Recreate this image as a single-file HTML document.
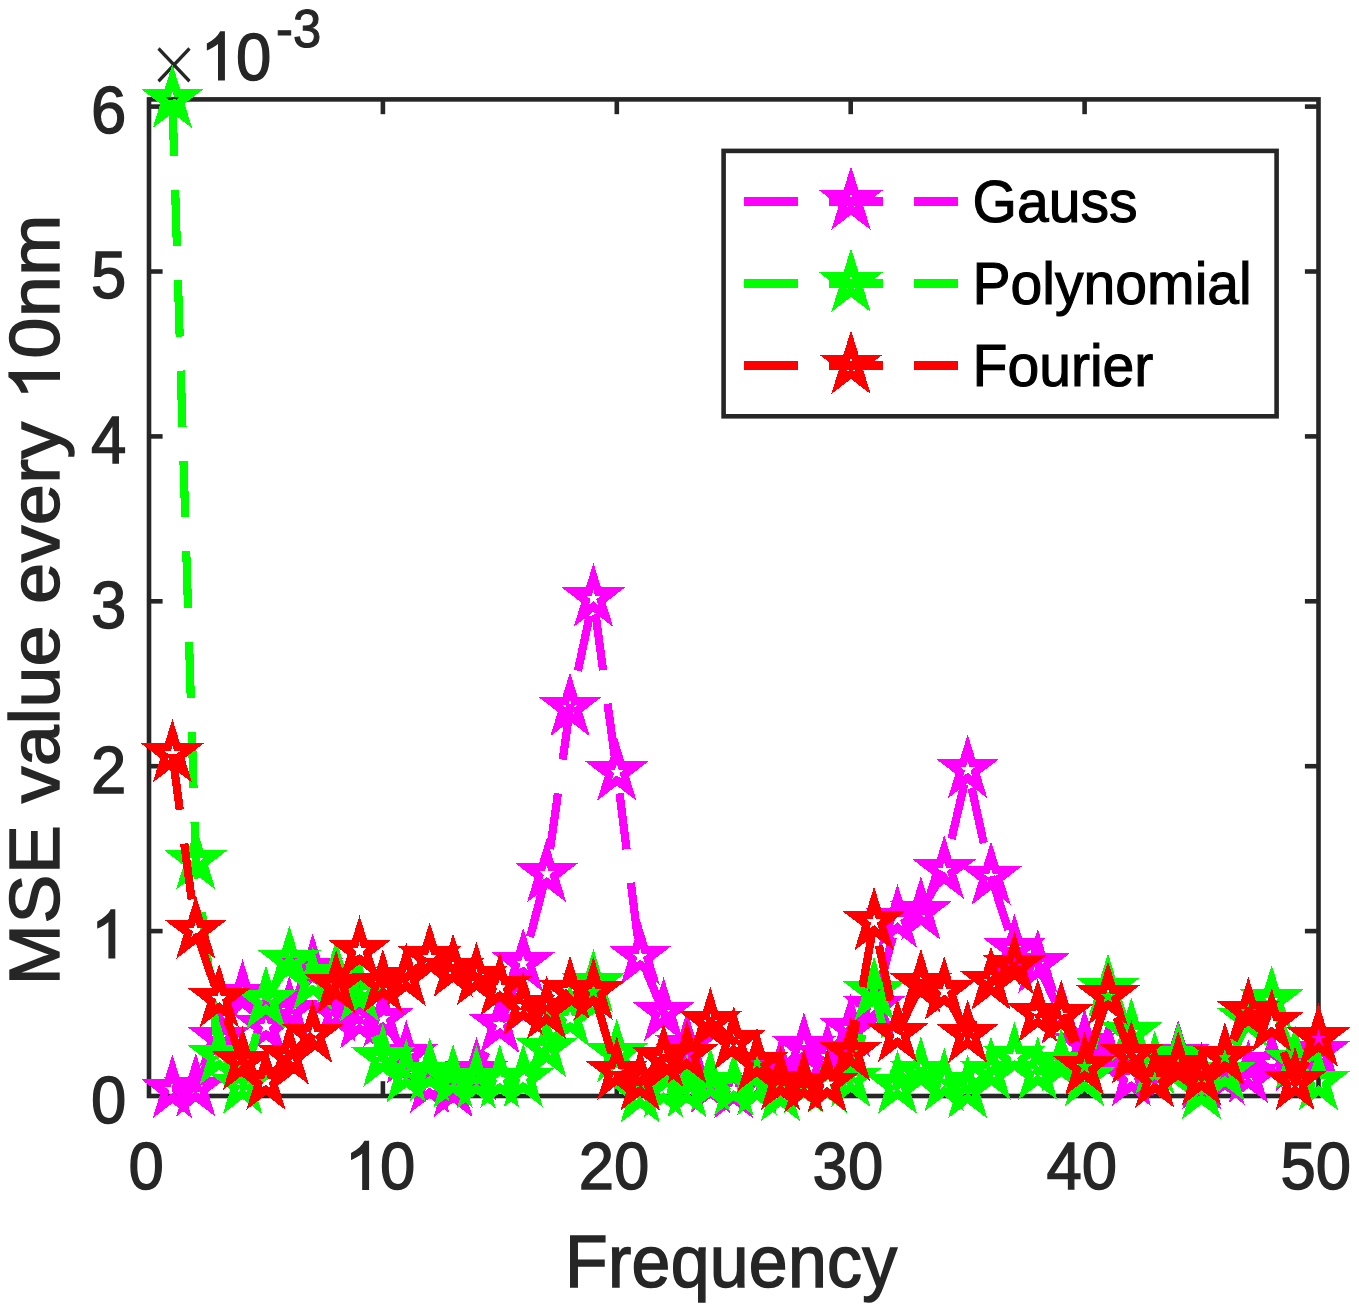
<!DOCTYPE html>
<html><head><meta charset="utf-8"><title>MSE chart</title>
<style>html,body{margin:0;padding:0;background:#fff}svg{display:block}text{font-family:"Liberation Sans",sans-serif}</style>
</head><body>
<svg width="1359" height="1311" viewBox="0 0 1359 1311">
<rect x="0" y="0" width="1359" height="1311" fill="#fff"/>
<g transform="scale(0.9520,1)">
</g>
<g stroke="#262626" stroke-width="4.60" fill="none" stroke-linecap="butt">
<rect x="149.00" y="99.40" width="1169.50" height="996.60"/>
<line x1="382.90" y1="1096.00" x2="382.90" y2="1081.20"/>
<line x1="382.90" y1="99.40" x2="382.90" y2="114.20"/>
<line x1="616.80" y1="1096.00" x2="616.80" y2="1081.20"/>
<line x1="616.80" y1="99.40" x2="616.80" y2="114.20"/>
<line x1="850.70" y1="1096.00" x2="850.70" y2="1081.20"/>
<line x1="850.70" y1="99.40" x2="850.70" y2="114.20"/>
<line x1="1084.60" y1="1096.00" x2="1084.60" y2="1081.20"/>
<line x1="1084.60" y1="99.40" x2="1084.60" y2="114.20"/>
<line x1="149.00" y1="931.10" x2="162.60" y2="931.10"/>
<line x1="1318.50" y1="931.10" x2="1304.90" y2="931.10"/>
<line x1="149.00" y1="766.20" x2="162.60" y2="766.20"/>
<line x1="1318.50" y1="766.20" x2="1304.90" y2="766.20"/>
<line x1="149.00" y1="601.30" x2="162.60" y2="601.30"/>
<line x1="1318.50" y1="601.30" x2="1304.90" y2="601.30"/>
<line x1="149.00" y1="436.40" x2="162.60" y2="436.40"/>
<line x1="1318.50" y1="436.40" x2="1304.90" y2="436.40"/>
<line x1="149.00" y1="271.50" x2="162.60" y2="271.50"/>
<line x1="1318.50" y1="271.50" x2="1304.90" y2="271.50"/>
<line x1="149.00" y1="106.60" x2="162.60" y2="106.60"/>
<line x1="1318.50" y1="106.60" x2="1304.90" y2="106.60"/>
</g>
<g transform="scale(0.9520,1)">
<text x="135.03" y="1189.30" font-size="66.67" fill="#262626" stroke="#262626" stroke-width="1.40">0</text>
<path transform="translate(362.19,1189.30) scale(0.03255,-0.03255)" d="M763 0H583V1147Q518 1085 412.5 1023T223 930V1104Q374 1175 487 1276T647 1472H763Z" fill="#262626" stroke="#262626" stroke-width="43.0"/><text x="399.26" y="1189.30" font-size="66.67" fill="#262626" stroke="#262626" stroke-width="1.40">0</text>
<text x="607.88" y="1189.30" font-size="66.67" fill="#262626" stroke="#262626" stroke-width="1.40">2</text><text x="644.96" y="1189.30" font-size="66.67" fill="#262626" stroke="#262626" stroke-width="1.40">0</text>
<text x="853.57" y="1189.30" font-size="66.67" fill="#262626" stroke="#262626" stroke-width="1.40">3</text><text x="890.65" y="1189.30" font-size="66.67" fill="#262626" stroke="#262626" stroke-width="1.40">0</text>
<text x="1099.27" y="1189.30" font-size="66.67" fill="#262626" stroke="#262626" stroke-width="1.40">4</text><text x="1136.34" y="1189.30" font-size="66.67" fill="#262626" stroke="#262626" stroke-width="1.40">0</text>
<text x="1344.96" y="1189.30" font-size="66.67" fill="#262626" stroke="#262626" stroke-width="1.40">5</text><text x="1382.04" y="1189.30" font-size="66.67" fill="#262626" stroke="#262626" stroke-width="1.40">0</text>
<text x="95.59" y="1122.80" font-size="66.67" fill="#262626" stroke="#262626" stroke-width="1.40">0</text>
<path transform="translate(95.59,957.90) scale(0.03255,-0.03255)" d="M763 0H583V1147Q518 1085 412.5 1023T223 930V1104Q374 1175 487 1276T647 1472H763Z" fill="#262626" stroke="#262626" stroke-width="43.0"/>
<text x="95.59" y="793.00" font-size="66.67" fill="#262626" stroke="#262626" stroke-width="1.40">2</text>
<text x="95.59" y="628.10" font-size="66.67" fill="#262626" stroke="#262626" stroke-width="1.40">3</text>
<text x="95.59" y="463.20" font-size="66.67" fill="#262626" stroke="#262626" stroke-width="1.40">4</text>
<text x="95.59" y="298.30" font-size="66.67" fill="#262626" stroke="#262626" stroke-width="1.40">5</text>
<text x="95.59" y="133.40" font-size="66.67" fill="#262626" stroke="#262626" stroke-width="1.40">6</text>
<path transform="translate(210.71,79.80) scale(0.03255,-0.03255)" d="M763 0H583V1147Q518 1085 412.5 1023T223 930V1104Q374 1175 487 1276T647 1472H763Z" fill="#262626" stroke="#262626" stroke-width="43.0"/><text x="247.79" y="79.80" font-size="66.67" fill="#262626" stroke="#262626" stroke-width="1.40">0</text>
<text x="289.92" y="47.00" font-size="53.33" fill="#262626" stroke="#262626" stroke-width="1.12">-3</text>
<g stroke="#262626" stroke-width="3.4" stroke-linecap="butt">
<line x1="166.49" y1="48.5" x2="199.05" y2="81.2"/>
<line x1="166.49" y1="81.2" x2="199.05" y2="48.5"/>
</g>
<text x="768.17" y="1287.00" font-size="73.33" fill="#262626" stroke="#262626" stroke-width="1.50" letter-spacing="0.3" text-anchor="middle">Frequency</text>
<g transform="translate(62.29,599.90) rotate(-90)">
<text x="-385.31" y="0" font-size="73.33" fill="#262626" stroke="#262626" stroke-width="1.50" letter-spacing="0.66" xml:space="preserve">MSE value every </text>
<path transform="translate(199.90,0.00) scale(0.03581,-0.03581)" d="M763 0H583V1147Q518 1085 412.5 1023T223 930V1104Q374 1175 487 1276T647 1472H763Z" fill="#262626" stroke="#262626" stroke-width="41.9"/>
<text x="241.35" y="0" font-size="73.33" fill="#262626" stroke="#262626" stroke-width="1.50" letter-spacing="0.66">0nm</text>
</g>
<g shape-rendering="crispEdges">
<polyline fill="none" stroke="#ff00ff" stroke-width="8.60" stroke-dasharray="56.4 34" stroke-dashoffset="0.00" stroke-linejoin="miter" points="181.08,1089.69 205.65,1088.03 230.22,1037.87 254.79,994.69 279.36,1026.25 303.93,1010.80 328.50,968.62 353.07,1012.96 377.64,1020.10 402.21,1018.44 426.78,1054.98 451.34,1084.37 475.91,1088.86 500.48,1071.92 525.05,1024.59 549.62,963.14"/>
<polyline fill="none" stroke="#ff00ff" stroke-width="8.60" stroke-dasharray="56.4 34" stroke-dashoffset="63.16" stroke-linejoin="miter" points="549.62,963.14 574.19,873.78 598.76,707.70 623.33,598.26 647.90,772.14 672.47,956.49 697.04,1012.46 721.61,1046.18 746.18,1084.37 770.75,1090.02 795.32,1086.04 819.88,1071.09 844.45,1047.34 869.02,1056.14 893.59,1028.74"/>
<polyline fill="none" stroke="#ff00ff" stroke-width="8.60" stroke-dasharray="56.4 34" stroke-dashoffset="41.43" stroke-linejoin="miter" points="893.59,1028.74 918.16,1006.65 942.73,919.29 967.30,911.49 991.87,870.30 1016.44,769.65 1041.01,876.44 1065.58,948.69 1090.15,964.30 1114.72,1014.62 1139.29,1043.68 1163.86,1054.48 1188.42,1077.73 1212.99,1079.39 1237.56,1054.81 1262.13,1081.05 1286.70,1076.07 1311.27,1074.41 1335.84,1062.78 1360.41,1062.78 1384.98,1051.82"/>
<path fill="none" stroke="#ff00ff" stroke-width="8.33" stroke-linejoin="miter" stroke-miterlimit="10" d="M181.08 1067.89L185.95 1082.95L201.71 1082.95L188.96 1092.26L193.83 1107.33L181.08 1098.02L168.33 1107.33L173.20 1092.26L160.45 1082.95L176.21 1082.95ZM205.65 1066.23L210.52 1081.29L226.28 1081.29L213.53 1090.60L218.40 1105.66L205.65 1096.36L192.90 1105.66L197.77 1090.60L185.02 1081.29L200.78 1081.29ZM230.22 1016.07L235.09 1031.14L250.85 1031.14L238.10 1040.45L242.97 1055.51L230.22 1046.20L217.47 1055.51L222.34 1040.45L209.59 1031.14L225.35 1031.14ZM254.79 972.89L259.66 987.95L275.42 987.95L262.67 997.26L267.54 1012.33L254.79 1003.02L242.04 1012.33L246.91 997.26L234.16 987.95L249.92 987.95ZM279.36 1004.45L284.23 1019.51L299.99 1019.51L287.24 1028.82L292.11 1043.88L279.36 1034.57L266.61 1043.88L271.48 1028.82L258.73 1019.51L274.49 1019.51ZM303.93 989.00L308.80 1004.06L324.56 1004.06L311.81 1013.37L316.68 1028.44L303.93 1019.13L291.18 1028.44L296.05 1013.37L283.30 1004.06L299.06 1004.06ZM328.50 946.82L333.37 961.88L349.13 961.88L336.38 971.19L341.25 986.25L328.50 976.94L315.75 986.25L320.62 971.19L307.87 961.88L323.63 961.88ZM353.07 991.16L357.94 1006.22L373.70 1006.22L360.95 1015.53L365.82 1030.60L353.07 1021.29L340.32 1030.60L345.19 1015.53L332.44 1006.22L348.20 1006.22ZM377.64 998.30L382.51 1013.36L398.27 1013.36L385.52 1022.67L390.39 1037.74L377.64 1028.43L364.89 1037.74L369.76 1022.67L357.01 1013.36L372.77 1013.36ZM402.21 996.64L407.08 1011.70L422.84 1011.70L410.09 1021.01L414.96 1036.08L402.21 1026.77L389.46 1036.08L394.33 1021.01L381.58 1011.70L397.34 1011.70ZM426.78 1033.18L431.65 1048.24L447.40 1048.24L434.65 1057.55L439.52 1072.61L426.78 1063.31L414.03 1072.61L418.90 1057.55L406.15 1048.24L421.91 1048.24ZM451.34 1062.57L456.21 1077.64L471.97 1077.64L459.22 1086.95L464.09 1102.01L451.34 1092.70L438.59 1102.01L443.46 1086.95L430.72 1077.64L446.47 1077.64ZM475.91 1067.06L480.78 1082.12L496.54 1082.12L483.79 1091.43L488.66 1106.50L475.91 1097.19L463.16 1106.50L468.03 1091.43L455.28 1082.12L471.04 1082.12ZM500.48 1050.12L505.35 1065.18L521.11 1065.18L508.36 1074.49L513.23 1089.55L500.48 1080.25L487.73 1089.55L492.60 1074.49L479.85 1065.18L495.61 1065.18ZM525.05 1002.79L529.92 1017.85L545.68 1017.85L532.93 1027.16L537.80 1042.22L525.05 1032.91L512.30 1042.22L517.17 1027.16L504.42 1017.85L520.18 1017.85ZM549.62 941.34L554.49 956.40L570.25 956.40L557.50 965.71L562.37 980.77L549.62 971.46L536.87 980.77L541.74 965.71L528.99 956.40L544.75 956.40ZM574.19 851.98L579.06 867.05L594.82 867.05L582.07 876.36L586.94 891.42L574.19 882.11L561.44 891.42L566.31 876.36L553.56 867.05L569.32 867.05ZM598.76 685.90L603.63 700.97L619.39 700.97L606.64 710.28L611.51 725.34L598.76 716.03L586.01 725.34L590.88 710.28L578.13 700.97L593.89 700.97ZM623.33 576.46L628.20 591.52L643.96 591.52L631.21 600.83L636.08 615.89L623.33 606.59L610.58 615.89L615.45 600.83L602.70 591.52L618.46 591.52ZM647.90 750.34L652.77 765.41L668.53 765.41L655.78 774.72L660.65 789.78L647.90 780.47L635.15 789.78L640.02 774.72L627.27 765.41L643.03 765.41ZM672.47 934.69L677.34 949.76L693.10 949.76L680.35 959.07L685.22 974.13L672.47 964.82L659.72 974.13L664.59 959.07L651.84 949.76L667.60 949.76ZM697.04 990.66L701.91 1005.73L717.67 1005.73L704.92 1015.03L709.79 1030.10L697.04 1020.79L684.29 1030.10L689.16 1015.03L676.41 1005.73L692.17 1005.73ZM721.61 1024.38L726.48 1039.44L742.24 1039.44L729.49 1048.75L734.36 1063.81L721.61 1054.50L708.86 1063.81L713.73 1048.75L700.98 1039.44L716.74 1039.44ZM746.18 1062.57L751.05 1077.64L766.81 1077.64L754.06 1086.95L758.93 1102.01L746.18 1092.70L733.43 1102.01L738.30 1086.95L725.55 1077.64L741.31 1077.64ZM770.75 1068.22L775.62 1083.28L791.38 1083.28L778.63 1092.59L783.50 1107.66L770.75 1098.35L758.00 1107.66L762.87 1092.59L750.12 1083.28L765.88 1083.28ZM795.32 1064.24L800.19 1079.30L815.94 1079.30L803.19 1088.61L808.06 1103.67L795.32 1094.36L782.57 1103.67L787.44 1088.61L774.69 1079.30L790.45 1079.30ZM819.88 1049.29L824.75 1064.35L840.51 1064.35L827.76 1073.66L832.63 1088.72L819.88 1079.41L807.13 1088.72L812.00 1073.66L799.26 1064.35L815.01 1064.35ZM844.45 1025.54L849.32 1040.60L865.08 1040.60L852.33 1049.91L857.20 1064.98L844.45 1055.67L831.70 1064.98L836.57 1049.91L823.82 1040.60L839.58 1040.60ZM869.02 1034.34L873.89 1049.40L889.65 1049.40L876.90 1058.71L881.77 1073.78L869.02 1064.47L856.27 1073.78L861.14 1058.71L848.39 1049.40L864.15 1049.40ZM893.59 1006.94L898.46 1022.00L914.22 1022.00L901.47 1031.31L906.34 1046.37L893.59 1037.06L880.84 1046.37L885.71 1031.31L872.96 1022.00L888.72 1022.00ZM918.16 984.85L923.03 999.91L938.79 999.91L926.04 1009.22L930.91 1024.29L918.16 1014.98L905.41 1024.29L910.28 1009.22L897.53 999.91L913.29 999.91ZM942.73 897.49L947.60 912.55L963.36 912.55L950.61 921.86L955.48 936.93L942.73 927.62L929.98 936.93L934.85 921.86L922.10 912.55L937.86 912.55ZM967.30 889.69L972.17 904.75L987.93 904.75L975.18 914.06L980.05 929.12L967.30 919.81L954.55 929.12L959.42 914.06L946.67 904.75L962.43 904.75ZM991.87 848.50L996.74 863.56L1012.50 863.56L999.75 872.87L1004.62 887.93L991.87 878.62L979.12 887.93L983.99 872.87L971.24 863.56L987.00 863.56ZM1016.44 747.85L1021.31 762.92L1037.07 762.92L1024.32 772.23L1029.19 787.29L1016.44 777.98L1003.69 787.29L1008.56 772.23L995.81 762.92L1011.57 762.92ZM1041.01 854.64L1045.88 869.71L1061.64 869.71L1048.89 879.02L1053.76 894.08L1041.01 884.77L1028.26 894.08L1033.13 879.02L1020.38 869.71L1036.14 869.71ZM1065.58 926.89L1070.45 941.95L1086.21 941.95L1073.46 951.26L1078.33 966.32L1065.58 957.01L1052.83 966.32L1057.70 951.26L1044.95 941.95L1060.71 941.95ZM1090.15 942.50L1095.02 957.56L1110.78 957.56L1098.03 966.87L1102.90 981.94L1090.15 972.63L1077.40 981.94L1082.27 966.87L1069.52 957.56L1085.28 957.56ZM1114.72 992.82L1119.59 1007.88L1135.35 1007.88L1122.60 1017.19L1127.47 1032.26L1114.72 1022.95L1101.97 1032.26L1106.84 1017.19L1094.09 1007.88L1109.85 1007.88ZM1139.29 1021.88L1144.16 1036.95L1159.92 1036.95L1147.17 1046.26L1152.04 1061.32L1139.29 1052.01L1126.54 1061.32L1131.41 1046.26L1118.66 1036.95L1134.42 1036.95ZM1163.86 1032.68L1168.72 1047.74L1184.48 1047.74L1171.73 1057.05L1176.60 1072.12L1163.86 1062.81L1151.11 1072.12L1155.98 1057.05L1143.23 1047.74L1158.99 1047.74ZM1188.42 1055.93L1193.29 1070.99L1209.05 1070.99L1196.30 1080.30L1201.17 1095.37L1188.42 1086.06L1175.67 1095.37L1180.54 1080.30L1167.80 1070.99L1183.55 1070.99ZM1212.99 1057.59L1217.86 1072.66L1233.62 1072.66L1220.87 1081.97L1225.74 1097.03L1212.99 1087.72L1200.24 1097.03L1205.11 1081.97L1192.36 1072.66L1208.12 1072.66ZM1237.56 1033.01L1242.43 1048.08L1258.19 1048.08L1245.44 1057.39L1250.31 1072.45L1237.56 1063.14L1224.81 1072.45L1229.68 1057.39L1216.93 1048.08L1232.69 1048.08ZM1262.13 1059.25L1267.00 1074.32L1282.76 1074.32L1270.01 1083.63L1274.88 1098.69L1262.13 1089.38L1249.38 1098.69L1254.25 1083.63L1241.50 1074.32L1257.26 1074.32ZM1286.70 1054.27L1291.57 1069.33L1307.33 1069.33L1294.58 1078.64L1299.45 1093.71L1286.70 1084.40L1273.95 1093.71L1278.82 1078.64L1266.07 1069.33L1281.83 1069.33ZM1311.27 1052.61L1316.14 1067.67L1331.90 1067.67L1319.15 1076.98L1324.02 1092.05L1311.27 1082.74L1298.52 1092.05L1303.39 1076.98L1290.64 1067.67L1306.40 1067.67ZM1335.84 1040.98L1340.71 1056.05L1356.47 1056.05L1343.72 1065.36L1348.59 1080.42L1335.84 1071.11L1323.09 1080.42L1327.96 1065.36L1315.21 1056.05L1330.97 1056.05ZM1360.41 1040.98L1365.28 1056.05L1381.04 1056.05L1368.29 1065.36L1373.16 1080.42L1360.41 1071.11L1347.66 1080.42L1352.53 1065.36L1339.78 1056.05L1355.54 1056.05ZM1384.98 1030.02L1389.85 1045.09L1405.61 1045.09L1392.86 1054.40L1397.73 1069.46L1384.98 1060.15L1372.23 1069.46L1377.10 1054.40L1364.35 1045.09L1380.11 1045.09Z"/>
<polyline fill="none" stroke="#00ff00" stroke-width="8.60" stroke-dasharray="56.4 34" stroke-dashoffset="0.00" stroke-linejoin="miter" points="181.08,99.52 205.65,861.00 230.22,1056.14 254.79,1085.37 279.36,1000.67 303.93,960.98 328.50,981.40 353.07,974.76 377.64,993.03 402.21,1058.30 426.78,1073.75 451.34,1072.58 475.91,1079.39 500.48,1080.22 525.05,1079.39 549.62,1078.56 574.19,1048.67 598.76,1018.27 623.33,984.06 647.90,1053.82 672.47,1094.17 697.04,1088.86 721.61,1088.86 746.18,1082.71 770.75,1086.87 795.32,1086.53 819.88,1092.68 844.45,1084.37 869.02,1084.37 893.59,1078.56 918.16,991.87 942.73,1085.37 967.30,1071.50 991.87,1082.71 1016.44,1089.86 1041.01,1071.50 1065.58,1056.81 1090.15,1071.50 1114.72,1062.78 1139.29,1077.73 1163.86,988.71 1188.42,1032.72 1212.99,1065.61 1237.56,1056.81 1262.13,1090.85 1286.70,1072.42 1311.27,1018.77 1335.84,1000.34 1360.41,1060.46 1384.98,1081.88"/>
<path fill="none" stroke="#00ff00" stroke-width="8.33" stroke-linejoin="miter" stroke-miterlimit="10" d="M181.08 77.72L185.95 92.78L201.71 92.78L188.96 102.09L193.83 117.16L181.08 107.85L168.33 117.16L173.20 102.09L160.45 92.78L176.21 92.78ZM205.65 839.20L210.52 854.26L226.28 854.26L213.53 863.57L218.40 878.63L205.65 869.32L192.90 878.63L197.77 863.57L185.02 854.26L200.78 854.26ZM230.22 1034.34L235.09 1049.40L250.85 1049.40L238.10 1058.71L242.97 1073.78L230.22 1064.47L217.47 1073.78L222.34 1058.71L209.59 1049.40L225.35 1049.40ZM254.79 1063.57L259.66 1078.63L275.42 1078.63L262.67 1087.94L267.54 1103.01L254.79 1093.70L242.04 1103.01L246.91 1087.94L234.16 1078.63L249.92 1078.63ZM279.36 978.87L284.23 993.93L299.99 993.93L287.24 1003.24L292.11 1018.31L279.36 1009.00L266.61 1018.31L271.48 1003.24L258.73 993.93L274.49 993.93ZM303.93 939.18L308.80 954.24L324.56 954.24L311.81 963.55L316.68 978.61L303.93 969.30L291.18 978.61L296.05 963.55L283.30 954.24L299.06 954.24ZM328.50 959.60L333.37 974.67L349.13 974.67L336.38 983.98L341.25 999.04L328.50 989.73L315.75 999.04L320.62 983.98L307.87 974.67L323.63 974.67ZM353.07 952.96L357.94 968.03L373.70 968.03L360.95 977.33L365.82 992.40L353.07 983.09L340.32 992.40L345.19 977.33L332.44 968.03L348.20 968.03ZM377.64 971.23L382.51 986.29L398.27 986.29L385.52 995.60L390.39 1010.67L377.64 1001.36L364.89 1010.67L369.76 995.60L357.01 986.29L372.77 986.29ZM402.21 1036.50L407.08 1051.56L422.84 1051.56L410.09 1060.87L414.96 1075.94L402.21 1066.63L389.46 1075.94L394.33 1060.87L381.58 1051.56L397.34 1051.56ZM426.78 1051.95L431.65 1067.01L447.40 1067.01L434.65 1076.32L439.52 1091.38L426.78 1082.07L414.03 1091.38L418.90 1076.32L406.15 1067.01L421.91 1067.01ZM451.34 1050.78L456.21 1065.85L471.97 1065.85L459.22 1075.16L464.09 1090.22L451.34 1080.91L438.59 1090.22L443.46 1075.16L430.72 1065.85L446.47 1065.85ZM475.91 1057.59L480.78 1072.66L496.54 1072.66L483.79 1081.97L488.66 1097.03L475.91 1087.72L463.16 1097.03L468.03 1081.97L455.28 1072.66L471.04 1072.66ZM500.48 1058.42L505.35 1073.49L521.11 1073.49L508.36 1082.80L513.23 1097.86L500.48 1088.55L487.73 1097.86L492.60 1082.80L479.85 1073.49L495.61 1073.49ZM525.05 1057.59L529.92 1072.66L545.68 1072.66L532.93 1081.97L537.80 1097.03L525.05 1087.72L512.30 1097.03L517.17 1081.97L504.42 1072.66L520.18 1072.66ZM549.62 1056.76L554.49 1071.83L570.25 1071.83L557.50 1081.13L562.37 1096.20L549.62 1086.89L536.87 1096.20L541.74 1081.13L528.99 1071.83L544.75 1071.83ZM574.19 1026.87L579.06 1041.93L594.82 1041.93L582.07 1051.24L586.94 1066.30L574.19 1056.99L561.44 1066.30L566.31 1051.24L553.56 1041.93L569.32 1041.93ZM598.76 996.47L603.63 1011.54L619.39 1011.54L606.64 1020.85L611.51 1035.91L598.76 1026.60L586.01 1035.91L590.88 1020.85L578.13 1011.54L593.89 1011.54ZM623.33 962.26L628.20 977.33L643.96 977.33L631.21 986.64L636.08 1001.70L623.33 992.39L610.58 1001.70L615.45 986.64L602.70 977.33L618.46 977.33ZM647.90 1032.02L652.77 1047.08L668.53 1047.08L655.78 1056.39L660.65 1071.45L647.90 1062.14L635.15 1071.45L640.02 1056.39L627.27 1047.08L643.03 1047.08ZM672.47 1072.37L677.34 1087.44L693.10 1087.44L680.35 1096.75L685.22 1111.81L672.47 1102.50L659.72 1111.81L664.59 1096.75L651.84 1087.44L667.60 1087.44ZM697.04 1067.06L701.91 1082.12L717.67 1082.12L704.92 1091.43L709.79 1106.50L697.04 1097.19L684.29 1106.50L689.16 1091.43L676.41 1082.12L692.17 1082.12ZM721.61 1067.06L726.48 1082.12L742.24 1082.12L729.49 1091.43L734.36 1106.50L721.61 1097.19L708.86 1106.50L713.73 1091.43L700.98 1082.12L716.74 1082.12ZM746.18 1060.91L751.05 1075.98L766.81 1075.98L754.06 1085.29L758.93 1100.35L746.18 1091.04L733.43 1100.35L738.30 1085.29L725.55 1075.98L741.31 1075.98ZM770.75 1065.07L775.62 1080.13L791.38 1080.13L778.63 1089.44L783.50 1104.50L770.75 1095.19L758.00 1104.50L762.87 1089.44L750.12 1080.13L765.88 1080.13ZM795.32 1064.73L800.19 1079.80L815.94 1079.80L803.19 1089.11L808.06 1104.17L795.32 1094.86L782.57 1104.17L787.44 1089.11L774.69 1079.80L790.45 1079.80ZM819.88 1070.88L824.75 1085.94L840.51 1085.94L827.76 1095.25L832.63 1110.31L819.88 1101.01L807.13 1110.31L812.00 1095.25L799.26 1085.94L815.01 1085.94ZM844.45 1062.57L849.32 1077.64L865.08 1077.64L852.33 1086.95L857.20 1102.01L844.45 1092.70L831.70 1102.01L836.57 1086.95L823.82 1077.64L839.58 1077.64ZM869.02 1062.57L873.89 1077.64L889.65 1077.64L876.90 1086.95L881.77 1102.01L869.02 1092.70L856.27 1102.01L861.14 1086.95L848.39 1077.64L864.15 1077.64ZM893.59 1056.76L898.46 1071.83L914.22 1071.83L901.47 1081.13L906.34 1096.20L893.59 1086.89L880.84 1096.20L885.71 1081.13L872.96 1071.83L888.72 1071.83ZM918.16 970.07L923.03 985.13L938.79 985.13L926.04 994.44L930.91 1009.50L918.16 1000.19L905.41 1009.50L910.28 994.44L897.53 985.13L913.29 985.13ZM942.73 1063.57L947.60 1078.63L963.36 1078.63L950.61 1087.94L955.48 1103.01L942.73 1093.70L929.98 1103.01L934.85 1087.94L922.10 1078.63L937.86 1078.63ZM967.30 1049.70L972.17 1064.77L987.93 1064.77L975.18 1074.08L980.05 1089.14L967.30 1079.83L954.55 1089.14L959.42 1074.08L946.67 1064.77L962.43 1064.77ZM991.87 1060.91L996.74 1075.98L1012.50 1075.98L999.75 1085.29L1004.62 1100.35L991.87 1091.04L979.12 1100.35L983.99 1085.29L971.24 1075.98L987.00 1075.98ZM1016.44 1068.06L1021.31 1083.12L1037.07 1083.12L1024.32 1092.43L1029.19 1107.49L1016.44 1098.18L1003.69 1107.49L1008.56 1092.43L995.81 1083.12L1011.57 1083.12ZM1041.01 1049.70L1045.88 1064.77L1061.64 1064.77L1048.89 1074.08L1053.76 1089.14L1041.01 1079.83L1028.26 1089.14L1033.13 1074.08L1020.38 1064.77L1036.14 1064.77ZM1065.58 1035.01L1070.45 1050.07L1086.21 1050.07L1073.46 1059.38L1078.33 1074.44L1065.58 1065.13L1052.83 1074.44L1057.70 1059.38L1044.95 1050.07L1060.71 1050.07ZM1090.15 1049.70L1095.02 1064.77L1110.78 1064.77L1098.03 1074.08L1102.90 1089.14L1090.15 1079.83L1077.40 1089.14L1082.27 1074.08L1069.52 1064.77L1085.28 1064.77ZM1114.72 1040.98L1119.59 1056.05L1135.35 1056.05L1122.60 1065.36L1127.47 1080.42L1114.72 1071.11L1101.97 1080.42L1106.84 1065.36L1094.09 1056.05L1109.85 1056.05ZM1139.29 1055.93L1144.16 1070.99L1159.92 1070.99L1147.17 1080.30L1152.04 1095.37L1139.29 1086.06L1126.54 1095.37L1131.41 1080.30L1118.66 1070.99L1134.42 1070.99ZM1163.86 966.91L1168.72 981.98L1184.48 981.98L1171.73 991.29L1176.60 1006.35L1163.86 997.04L1151.11 1006.35L1155.98 991.29L1143.23 981.98L1158.99 981.98ZM1188.42 1010.92L1193.29 1025.99L1209.05 1025.99L1196.30 1035.30L1201.17 1050.36L1188.42 1041.05L1175.67 1050.36L1180.54 1035.30L1167.80 1025.99L1183.55 1025.99ZM1212.99 1043.81L1217.86 1058.87L1233.62 1058.87L1220.87 1068.18L1225.74 1083.24L1212.99 1073.93L1200.24 1083.24L1205.11 1068.18L1192.36 1058.87L1208.12 1058.87ZM1237.56 1035.01L1242.43 1050.07L1258.19 1050.07L1245.44 1059.38L1250.31 1074.44L1237.56 1065.13L1224.81 1074.44L1229.68 1059.38L1216.93 1050.07L1232.69 1050.07ZM1262.13 1069.05L1267.00 1084.11L1282.76 1084.11L1270.01 1093.42L1274.88 1108.49L1262.13 1099.18L1249.38 1108.49L1254.25 1093.42L1241.50 1084.11L1257.26 1084.11ZM1286.70 1050.62L1291.57 1065.68L1307.33 1065.68L1294.58 1074.99L1299.45 1090.05L1286.70 1080.74L1273.95 1090.05L1278.82 1074.99L1266.07 1065.68L1281.83 1065.68ZM1311.27 996.97L1316.14 1012.04L1331.90 1012.04L1319.15 1021.35L1324.02 1036.41L1311.27 1027.10L1298.52 1036.41L1303.39 1021.35L1290.64 1012.04L1306.40 1012.04ZM1335.84 978.54L1340.71 993.60L1356.47 993.60L1343.72 1002.91L1348.59 1017.97L1335.84 1008.66L1323.09 1017.97L1327.96 1002.91L1315.21 993.60L1330.97 993.60ZM1360.41 1038.66L1365.28 1053.72L1381.04 1053.72L1368.29 1063.03L1373.16 1078.10L1360.41 1068.79L1347.66 1078.10L1352.53 1063.03L1339.78 1053.72L1355.54 1053.72ZM1384.98 1060.08L1389.85 1075.15L1405.61 1075.15L1392.86 1084.46L1397.73 1099.52L1384.98 1090.21L1372.23 1099.52L1377.10 1084.46L1364.35 1075.15L1380.11 1075.15Z"/>
<polyline fill="none" stroke="#ff0000" stroke-width="8.60" stroke-dasharray="56.4 34" stroke-dashoffset="0.00" stroke-linejoin="miter" points="181.08,754.04 205.65,930.42 230.22,998.84 254.79,1061.62 279.36,1081.38 303.93,1056.14 328.50,1034.55 353.07,985.22 377.64,950.68 402.21,984.06 426.78,977.58 451.34,957.32 475.91,968.62 500.48,976.75 525.05,987.38 549.62,1006.32 574.19,1010.63"/>
<polyline fill="none" stroke="#ff0000" stroke-width="8.60" stroke-dasharray="56.4 34" stroke-dashoffset="26.32" stroke-linejoin="miter" points="574.19,1010.63 598.76,990.71 623.33,991.87 647.90,1071.50 672.47,1082.05 697.04,1058.30 721.61,1054.98 746.18,1022.09 770.75,1041.36 795.32,1062.78 819.88,1081.55 844.45,1083.71 869.02,1083.71 893.59,1052.82"/>
<polyline fill="none" stroke="#ff0000" stroke-width="8.60" stroke-dasharray="56.4 34" stroke-dashoffset="23.48" stroke-linejoin="miter" points="893.59,1052.82 918.16,921.95 942.73,1033.72 967.30,983.73 991.87,991.37 1016.44,1034.55 1041.01,981.57 1065.58,966.13 1090.15,1013.62 1114.72,1015.29"/>
<polyline fill="none" stroke="#ff0000" stroke-width="8.60" stroke-dasharray="56.4 34" stroke-dashoffset="25.92" stroke-linejoin="miter" points="1114.72,1015.29 1139.29,1066.94 1163.86,996.35 1188.42,1055.31 1212.99,1079.23 1237.56,1066.11 1262.13,1076.90 1286.70,1057.14 1311.27,1011.96 1335.84,1023.26 1360.41,1081.88 1384.98,1038.37"/>
<path fill="none" stroke="#ff0000" stroke-width="8.33" stroke-linejoin="miter" stroke-miterlimit="10" d="M181.08 732.24L185.95 747.30L201.71 747.30L188.96 756.61L193.83 771.68L181.08 762.37L168.33 771.68L173.20 756.61L160.45 747.30L176.21 747.30ZM205.65 908.62L210.52 923.68L226.28 923.68L213.53 932.99L218.40 948.05L205.65 938.75L192.90 948.05L197.77 932.99L185.02 923.68L200.78 923.68ZM230.22 977.04L235.09 992.11L250.85 992.11L238.10 1001.42L242.97 1016.48L230.22 1007.17L217.47 1016.48L222.34 1001.42L209.59 992.11L225.35 992.11ZM254.79 1039.82L259.66 1054.88L275.42 1054.88L262.67 1064.19L267.54 1079.26L254.79 1069.95L242.04 1079.26L246.91 1064.19L234.16 1054.88L249.92 1054.88ZM279.36 1059.58L284.23 1074.65L299.99 1074.65L287.24 1083.96L292.11 1099.02L279.36 1089.71L266.61 1099.02L271.48 1083.96L258.73 1074.65L274.49 1074.65ZM303.93 1034.34L308.80 1049.40L324.56 1049.40L311.81 1058.71L316.68 1073.78L303.93 1064.47L291.18 1073.78L296.05 1058.71L283.30 1049.40L299.06 1049.40ZM328.50 1012.75L333.37 1027.81L349.13 1027.81L336.38 1037.12L341.25 1052.19L328.50 1042.88L315.75 1052.19L320.62 1037.12L307.87 1027.81L323.63 1027.81ZM353.07 963.42L357.94 978.49L373.70 978.49L360.95 987.80L365.82 1002.86L353.07 993.55L340.32 1002.86L345.19 987.80L332.44 978.49L348.20 978.49ZM377.64 928.88L382.51 943.94L398.27 943.94L385.52 953.25L390.39 968.32L377.64 959.01L364.89 968.32L369.76 953.25L357.01 943.94L372.77 943.94ZM402.21 962.26L407.08 977.33L422.84 977.33L410.09 986.64L414.96 1001.70L402.21 992.39L389.46 1001.70L394.33 986.64L381.58 977.33L397.34 977.33ZM426.78 955.78L431.65 970.85L447.40 970.85L434.65 980.16L439.52 995.22L426.78 985.91L414.03 995.22L418.90 980.16L406.15 970.85L421.91 970.85ZM451.34 935.52L456.21 950.59L471.97 950.59L459.22 959.90L464.09 974.96L451.34 965.65L438.59 974.96L443.46 959.90L430.72 950.59L446.47 950.59ZM475.91 946.82L480.78 961.88L496.54 961.88L483.79 971.19L488.66 986.25L475.91 976.94L463.16 986.25L468.03 971.19L455.28 961.88L471.04 961.88ZM500.48 954.95L505.35 970.02L521.11 970.02L508.36 979.33L513.23 994.39L500.48 985.08L487.73 994.39L492.60 979.33L479.85 970.02L495.61 970.02ZM525.05 965.58L529.92 980.65L545.68 980.65L532.93 989.96L537.80 1005.02L525.05 995.71L512.30 1005.02L517.17 989.96L504.42 980.65L520.18 980.65ZM549.62 984.52L554.49 999.58L570.25 999.58L557.50 1008.89L562.37 1023.95L549.62 1014.64L536.87 1023.95L541.74 1008.89L528.99 999.58L544.75 999.58ZM574.19 988.83L579.06 1003.90L594.82 1003.90L582.07 1013.21L586.94 1028.27L574.19 1018.96L561.44 1028.27L566.31 1013.21L553.56 1003.90L569.32 1003.90ZM598.76 968.91L603.63 983.97L619.39 983.97L606.64 993.28L611.51 1008.34L598.76 999.03L586.01 1008.34L590.88 993.28L578.13 983.97L593.89 983.97ZM623.33 970.07L628.20 985.13L643.96 985.13L631.21 994.44L636.08 1009.50L623.33 1000.19L610.58 1009.50L615.45 994.44L602.70 985.13L618.46 985.13ZM647.90 1049.70L652.77 1064.77L668.53 1064.77L655.78 1074.08L660.65 1089.14L647.90 1079.83L635.15 1089.14L640.02 1074.08L627.27 1064.77L643.03 1064.77ZM672.47 1060.25L677.34 1075.31L693.10 1075.31L680.35 1084.62L685.22 1099.69L672.47 1090.38L659.72 1099.69L664.59 1084.62L651.84 1075.31L667.60 1075.31ZM697.04 1036.50L701.91 1051.56L717.67 1051.56L704.92 1060.87L709.79 1075.94L697.04 1066.63L684.29 1075.94L689.16 1060.87L676.41 1051.56L692.17 1051.56ZM721.61 1033.18L726.48 1048.24L742.24 1048.24L729.49 1057.55L734.36 1072.61L721.61 1063.31L708.86 1072.61L713.73 1057.55L700.98 1048.24L716.74 1048.24ZM746.18 1000.29L751.05 1015.36L766.81 1015.36L754.06 1024.67L758.93 1039.73L746.18 1030.42L733.43 1039.73L738.30 1024.67L725.55 1015.36L741.31 1015.36ZM770.75 1019.56L775.62 1034.62L791.38 1034.62L778.63 1043.93L783.50 1059.00L770.75 1049.69L758.00 1059.00L762.87 1043.93L750.12 1034.62L765.88 1034.62ZM795.32 1040.98L800.19 1056.05L815.94 1056.05L803.19 1065.36L808.06 1080.42L795.32 1071.11L782.57 1080.42L787.44 1065.36L774.69 1056.05L790.45 1056.05ZM819.88 1059.75L824.75 1074.81L840.51 1074.81L827.76 1084.12L832.63 1099.19L819.88 1089.88L807.13 1099.19L812.00 1084.12L799.26 1074.81L815.01 1074.81ZM844.45 1061.91L849.32 1076.97L865.08 1076.97L852.33 1086.28L857.20 1101.35L844.45 1092.04L831.70 1101.35L836.57 1086.28L823.82 1076.97L839.58 1076.97ZM869.02 1061.91L873.89 1076.97L889.65 1076.97L876.90 1086.28L881.77 1101.35L869.02 1092.04L856.27 1101.35L861.14 1086.28L848.39 1076.97L864.15 1076.97ZM893.59 1031.02L898.46 1046.08L914.22 1046.08L901.47 1055.39L906.34 1070.46L893.59 1061.15L880.84 1070.46L885.71 1055.39L872.96 1046.08L888.72 1046.08ZM918.16 900.15L923.03 915.21L938.79 915.21L926.04 924.52L930.91 939.58L918.16 930.28L905.41 939.58L910.28 924.52L897.53 915.21L913.29 915.21ZM942.73 1011.92L947.60 1026.98L963.36 1026.98L950.61 1036.29L955.48 1051.36L942.73 1042.05L929.98 1051.36L934.85 1036.29L922.10 1026.98L937.86 1026.98ZM967.30 961.93L972.17 976.99L987.93 976.99L975.18 986.30L980.05 1001.37L967.30 992.06L954.55 1001.37L959.42 986.30L946.67 976.99L962.43 976.99ZM991.87 969.57L996.74 984.63L1012.50 984.63L999.75 993.94L1004.62 1009.01L991.87 999.70L979.12 1009.01L983.99 993.94L971.24 984.63L987.00 984.63ZM1016.44 1012.75L1021.31 1027.81L1037.07 1027.81L1024.32 1037.12L1029.19 1052.19L1016.44 1042.88L1003.69 1052.19L1008.56 1037.12L995.81 1027.81L1011.57 1027.81ZM1041.01 959.77L1045.88 974.83L1061.64 974.83L1048.89 984.14L1053.76 999.21L1041.01 989.90L1028.26 999.21L1033.13 984.14L1020.38 974.83L1036.14 974.83ZM1065.58 944.33L1070.45 959.39L1086.21 959.39L1073.46 968.70L1078.33 983.76L1065.58 974.45L1052.83 983.76L1057.70 968.70L1044.95 959.39L1060.71 959.39ZM1090.15 991.82L1095.02 1006.89L1110.78 1006.89L1098.03 1016.20L1102.90 1031.26L1090.15 1021.95L1077.40 1031.26L1082.27 1016.20L1069.52 1006.89L1085.28 1006.89ZM1114.72 993.49L1119.59 1008.55L1135.35 1008.55L1122.60 1017.86L1127.47 1032.92L1114.72 1023.61L1101.97 1032.92L1106.84 1017.86L1094.09 1008.55L1109.85 1008.55ZM1139.29 1045.14L1144.16 1060.20L1159.92 1060.20L1147.17 1069.51L1152.04 1084.57L1139.29 1075.26L1126.54 1084.57L1131.41 1069.51L1118.66 1060.20L1134.42 1060.20ZM1163.86 974.55L1168.72 989.62L1184.48 989.62L1171.73 998.93L1176.60 1013.99L1163.86 1004.68L1151.11 1013.99L1155.98 998.93L1143.23 989.62L1158.99 989.62ZM1188.42 1033.51L1193.29 1048.57L1209.05 1048.57L1196.30 1057.88L1201.17 1072.95L1188.42 1063.64L1175.67 1072.95L1180.54 1057.88L1167.80 1048.57L1183.55 1048.57ZM1212.99 1057.43L1217.86 1072.49L1233.62 1072.49L1220.87 1081.80L1225.74 1096.86L1212.99 1087.55L1200.24 1096.86L1205.11 1081.80L1192.36 1072.49L1208.12 1072.49ZM1237.56 1044.31L1242.43 1059.37L1258.19 1059.37L1245.44 1068.68L1250.31 1083.74L1237.56 1074.43L1224.81 1083.74L1229.68 1068.68L1216.93 1059.37L1232.69 1059.37ZM1262.13 1055.10L1267.00 1070.16L1282.76 1070.16L1270.01 1079.47L1274.88 1094.54L1262.13 1085.23L1249.38 1094.54L1254.25 1079.47L1241.50 1070.16L1257.26 1070.16ZM1286.70 1035.34L1291.57 1050.40L1307.33 1050.40L1294.58 1059.71L1299.45 1074.77L1286.70 1065.46L1273.95 1074.77L1278.82 1059.71L1266.07 1050.40L1281.83 1050.40ZM1311.27 990.16L1316.14 1005.23L1331.90 1005.23L1319.15 1014.54L1324.02 1029.60L1311.27 1020.29L1298.52 1029.60L1303.39 1014.54L1290.64 1005.23L1306.40 1005.23ZM1335.84 1001.46L1340.71 1016.52L1356.47 1016.52L1343.72 1025.83L1348.59 1040.89L1335.84 1031.58L1323.09 1040.89L1327.96 1025.83L1315.21 1016.52L1330.97 1016.52ZM1360.41 1060.08L1365.28 1075.15L1381.04 1075.15L1368.29 1084.46L1373.16 1099.52L1360.41 1090.21L1347.66 1099.52L1352.53 1084.46L1339.78 1075.15L1355.54 1075.15ZM1384.98 1016.57L1389.85 1031.63L1405.61 1031.63L1392.86 1040.94L1397.73 1056.01L1384.98 1046.70L1372.23 1056.01L1377.10 1040.94L1364.35 1031.63L1380.11 1031.63Z"/>
</g>
</g>
<rect x="723.60" y="150.90" width="553.00" height="265.40" fill="#fff" stroke="#262626" stroke-width="4.60"/>
<g transform="scale(0.9520,1)">
<g shape-rendering="crispEdges">
<line x1="781.62" y1="201.30" x2="1006.30" y2="201.30" stroke="#ff00ff" stroke-width="8.60" stroke-dasharray="56.4 32.8"/>
<path fill="none" stroke="#ff00ff" stroke-width="8.33" stroke-linejoin="miter" stroke-miterlimit="10" d="M893.91 179.50L898.78 194.56L914.54 194.56L901.79 203.87L906.66 218.94L893.91 209.63L881.16 218.94L886.03 203.87L873.28 194.56L889.04 194.56Z"/>
<line x1="781.62" y1="283.40" x2="1006.30" y2="283.40" stroke="#00ff00" stroke-width="8.60" stroke-dasharray="56.4 32.8"/>
<path fill="none" stroke="#00ff00" stroke-width="8.33" stroke-linejoin="miter" stroke-miterlimit="10" d="M893.91 261.60L898.78 276.66L914.54 276.66L901.79 285.97L906.66 301.04L893.91 291.73L881.16 301.04L886.03 285.97L873.28 276.66L889.04 276.66Z"/>
<line x1="781.62" y1="365.50" x2="1006.30" y2="365.50" stroke="#ff0000" stroke-width="8.60" stroke-dasharray="56.4 32.8"/>
<path fill="none" stroke="#ff0000" stroke-width="8.33" stroke-linejoin="miter" stroke-miterlimit="10" d="M893.91 343.70L898.78 358.76L914.54 358.76L901.79 368.07L906.66 383.14L893.91 373.83L881.16 383.14L886.03 368.07L873.28 358.76L889.04 358.76Z"/>
</g>
<text x="1021.53" y="222.30" font-size="60" fill="#000" stroke="#000" stroke-width="1.1">Gauss</text>
<text x="1021.53" y="304.40" font-size="60" fill="#000" stroke="#000" stroke-width="1.1">Polynomial</text>
<text x="1021.53" y="386.50" font-size="60" fill="#000" stroke="#000" stroke-width="1.1">Fourier</text>
</g>
</svg>
</body></html>
